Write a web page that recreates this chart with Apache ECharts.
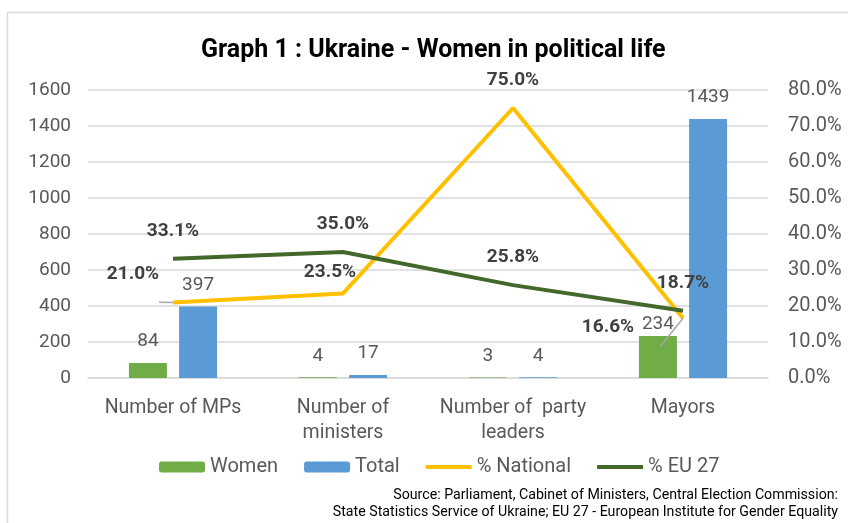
<!DOCTYPE html>
<html>
<head>
<meta charset="utf-8">
<script src="https://cdn.jsdelivr.net/npm/echarts@6/dist/echarts.min.js"></script>
<style>
  html, body { margin: 0; background: #fff; }
  #chart { width: 848px; height: 523px; }
</style>
</head>
<body>
<div id="chart"></div>
<script>
// Graph 1 : Ukraine - Women in political life
const categories = ["Number of MPs", "Number of\nministers", "Number of  party\nleaders", "Mayors"];
const women = [84, 4, 3, 234];
const total = [397, 17, 4, 1439];
const pctNational = [21.0, 23.5, 75.0, 16.6];
const pctEU = [33.1, 35.0, 25.8, 18.7];
const sourceLines = [
  "Source: Parliament, Cabinet of Ministers, Central Election Commission:",
  "State Statistics Service of Ukraine; EU 27 - European Institute for Gender Equality",
];

const GREEN = "#70ad47", BLUE = "#5b9bd5", YELLOW = "#ffc000", DARK = "#43682b";
const TXT = "#595959";
const FONT = "Roboto";
const LINE_ICON = "path://M0,0H46V4H0Z";

// label tweaks for the "% National" line (excel moved some of them by hand)
const natLabel = [
  { offset: [-40, -14], labelLine: true },
  { offset: [-13, -7] },
  { offset: [0, -13] },
  { offset: [-75, 24], labelLine: true },
];

const chart = echarts.init(document.getElementById("chart"), null, { renderer: "canvas" });

const barLabel = {
  show: true,
  position: "top",
  distance: 12,
  color: TXT,
  fontSize: 19,
  fontFamily: FONT,
};
const pctLabel = {
  show: true,
  position: "top",
  color: "#404040",
  fontSize: 19,
  fontWeight: "bold",
  fontFamily: FONT,
  formatter: (p) => p.value.toFixed(1) + "%",
};

chart.setOption({
  animation: false,
  textStyle: { fontFamily: FONT },
  graphic: [
    {
      type: "rect",
      shape: { x: 7.5, y: 12.5, width: 900, height: 600 },
      style: { fill: "none", stroke: "#d9d9d9", lineWidth: 1.5 },
      silent: true,
    },
    ...sourceLines.map((t, i) => ({
      type: "text",
      right: 10,
      top: 488 + i * 17,
      style: { text: t, fontSize: 14.2, fontFamily: FONT, fill: "#000" },
    })),
  ],
  title: {
    text: "Graph 1 : Ukraine - Women in political life",
    left: 196,
    top: 33,
    textStyle: { fontSize: 25, fontWeight: "bold", color: "#000", fontFamily: FONT },
  },
  legend: {
    top: 452,
    left: 154,
    itemWidth: 46,
    itemHeight: 11,
    itemGap: 26,
    textStyle: { color: TXT, fontSize: 20, fontFamily: FONT },
    data: [
      { name: "Women" },
      { name: "Total" },
      { name: "% National", icon: LINE_ICON },
      { name: "% EU 27", icon: LINE_ICON },
    ],
  },
  grid: { left: 88, right: 80, top: 90, bottom: 145 },
  xAxis: {
    type: "category",
    data: categories,
    axisLine: { lineStyle: { color: "#d9d9d9", width: 1.5 } },
    axisTick: { show: false },
    axisLabel: { color: TXT, fontSize: 19.5, lineHeight: 25, margin: 18, interval: 0 },
  },
  yAxis: [
    {
      type: "value",
      min: 0,
      max: 1600,
      interval: 200,
      axisLine: { show: false },
      axisTick: { show: false },
      axisLabel: { color: TXT, fontSize: 19, margin: 17, formatter: (v) => String(v) },
      splitLine: { lineStyle: { color: "#d9d9d9", width: 1.5 } },
    },
    {
      type: "value",
      min: 0,
      max: 80,
      interval: 10,
      axisLine: { show: false },
      axisTick: { show: false },
      axisLabel: { color: TXT, fontSize: 20, margin: 20, formatter: (v) => v.toFixed(1) + "%" },
      splitLine: { show: false },
    },
  ],
  series: [
    {
      name: "Women",
      type: "bar",
      data: women.map((v, i) => (i === 3 ? { value: v, label: { offset: [0, 10] } } : v)),
      barWidth: 38,
      barGap: "32%",
      itemStyle: { color: GREEN },
      label: barLabel,
    },
    {
      name: "Total",
      type: "bar",
      data: total,
      barWidth: 38,
      itemStyle: { color: BLUE },
      label: barLabel,
    },
    {
      name: "% National",
      type: "line",
      yAxisIndex: 1,
      symbol: "circle",
      symbolSize: 0.1,
      data: pctNational.map((v, i) => ({
        value: v,
        label: { offset: natLabel[i].offset },
        labelLine: { show: !!natLabel[i].labelLine },
      })),
      lineStyle: { color: YELLOW, width: 4 },
      itemStyle: { color: YELLOW },
      label: pctLabel,
      labelLine: { lineStyle: { color: "#a6a6a6", width: 1.5 } },
      z: 3,
    },
    {
      name: "% EU 27",
      type: "line",
      yAxisIndex: 1,
      symbol: "circle",
      symbolSize: 0.1,
      data: pctEU,
      lineStyle: { color: DARK, width: 4 },
      itemStyle: { color: DARK },
      label: { ...pctLabel, offset: [0, -13] },
      z: 4,
    },
  ],
});
</script>
</body>
</html>
